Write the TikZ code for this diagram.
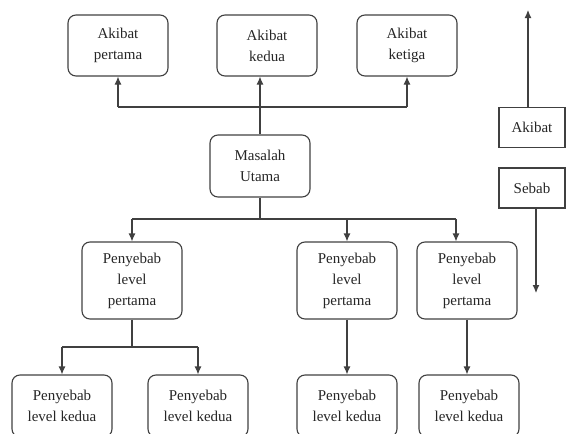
\documentclass[tikz,border=0pt]{standalone}
\usepackage{fontspec}
\setmainfont{Liberation Serif}
\usetikzlibrary{arrows.meta}
\definecolor{linec}{HTML}{404040}
\definecolor{textc}{HTML}{262626}
\begin{document}
\begin{tikzpicture}[x=1pt,y=-1pt,
  rbox/.style={draw=linec, line width=1.1pt, rounded corners=8pt, minimum width=100pt, inner sep=0pt, align=center, text=textc, font=\fontsize{15}{21}\selectfont},
  sbox/.style={draw=linec, line width=1.1pt, minimum width=66pt, minimum height=40pt, inner sep=0pt, align=center, text=textc, font=\fontsize{15}{21}\selectfont},
  arr/.style={draw=linec, line width=1.1pt, -{Latex[length=8pt,width=7pt]}},
  ln/.style={draw=linec, line width=1.1pt}]
\useasboundingbox (0,0) rectangle (566,434);
\clip (0,0) rectangle (566,434);
% top effects
\node[rbox, minimum height=61pt] (a1) at (118,45.5) {Akibat\\pertama};
\node[rbox, minimum height=61pt] (a2) at (267,45.5) {Akibat\\kedua};
\node[rbox, minimum height=61pt] (a3) at (407,45.5) {Akibat\\ketiga};
% main problem
\node[rbox, minimum height=62pt] (mu) at (260,166) {Masalah\\Utama};
% first-level causes
\node[rbox, minimum height=77pt] (p1) at (132,280.5) {Penyebab\\level\\pertama};
\node[rbox, minimum height=77pt] (p2) at (347,280.5) {Penyebab\\level\\pertama};
\node[rbox, minimum height=77pt] (p3) at (467,280.5) {Penyebab\\level\\pertama};
% second-level causes
\node[rbox, minimum height=62pt] (q1) at (62,406) {Penyebab\\level kedua};
\node[rbox, minimum height=62pt] (q2) at (198,406) {Penyebab\\level kedua};
\node[rbox, minimum height=62pt] (q3) at (347,406) {Penyebab\\level kedua};
\node[rbox, minimum height=62pt] (q4) at (469,406) {Penyebab\\level kedua};
% legend
\node[sbox] (ak) at (532,127.5) {Akibat};
\node[sbox] (sb) at (532,188) {Sebab};
\coordinate (top) at (528,10);
\coordinate (bot) at (536,293);
\draw[arr] (ak.north -| top) -- (top);
\draw[arr] (sb.south -| bot) -- (bot);
% top connectors
\coordinate (jt) at (0,107);
\draw[ln] (a1.south |- jt) -- (a3.south |- jt);
\draw[arr] (mu.north) -- (mu.north |- a2.south);
\draw[arr] (a1.south |- jt) -- (a1.south);
\draw[arr] (a3.south |- jt) -- (a3.south);
% middle connectors
\coordinate (jm) at (0,219);
\coordinate (p3in) at (456,0);
\draw[ln] (mu.south) -- (mu.south |- jm);
\draw[ln] (p1.north |- jm) -- (p3in |- jm);
\draw[arr] (p1.north |- jm) -- (p1.north);
\draw[arr] (p2.north |- jm) -- (p2.north);
\draw[arr] (p3in |- jm) -- (p3in |- p3.north);
% lower connectors
\coordinate (jl) at (0,347);
\draw[ln] (p1.south) -- (p1.south |- jl);
\draw[ln] (q1.north |- jl) -- (q2.north |- jl);
\draw[arr] (q1.north |- jl) -- (q1.north);
\draw[arr] (q2.north |- jl) -- (q2.north);
\draw[arr] (p2.south) -- (q3.north);
\draw[arr] (p3.south) -- (p3.south |- q4.north);
\end{tikzpicture}
\end{document}
